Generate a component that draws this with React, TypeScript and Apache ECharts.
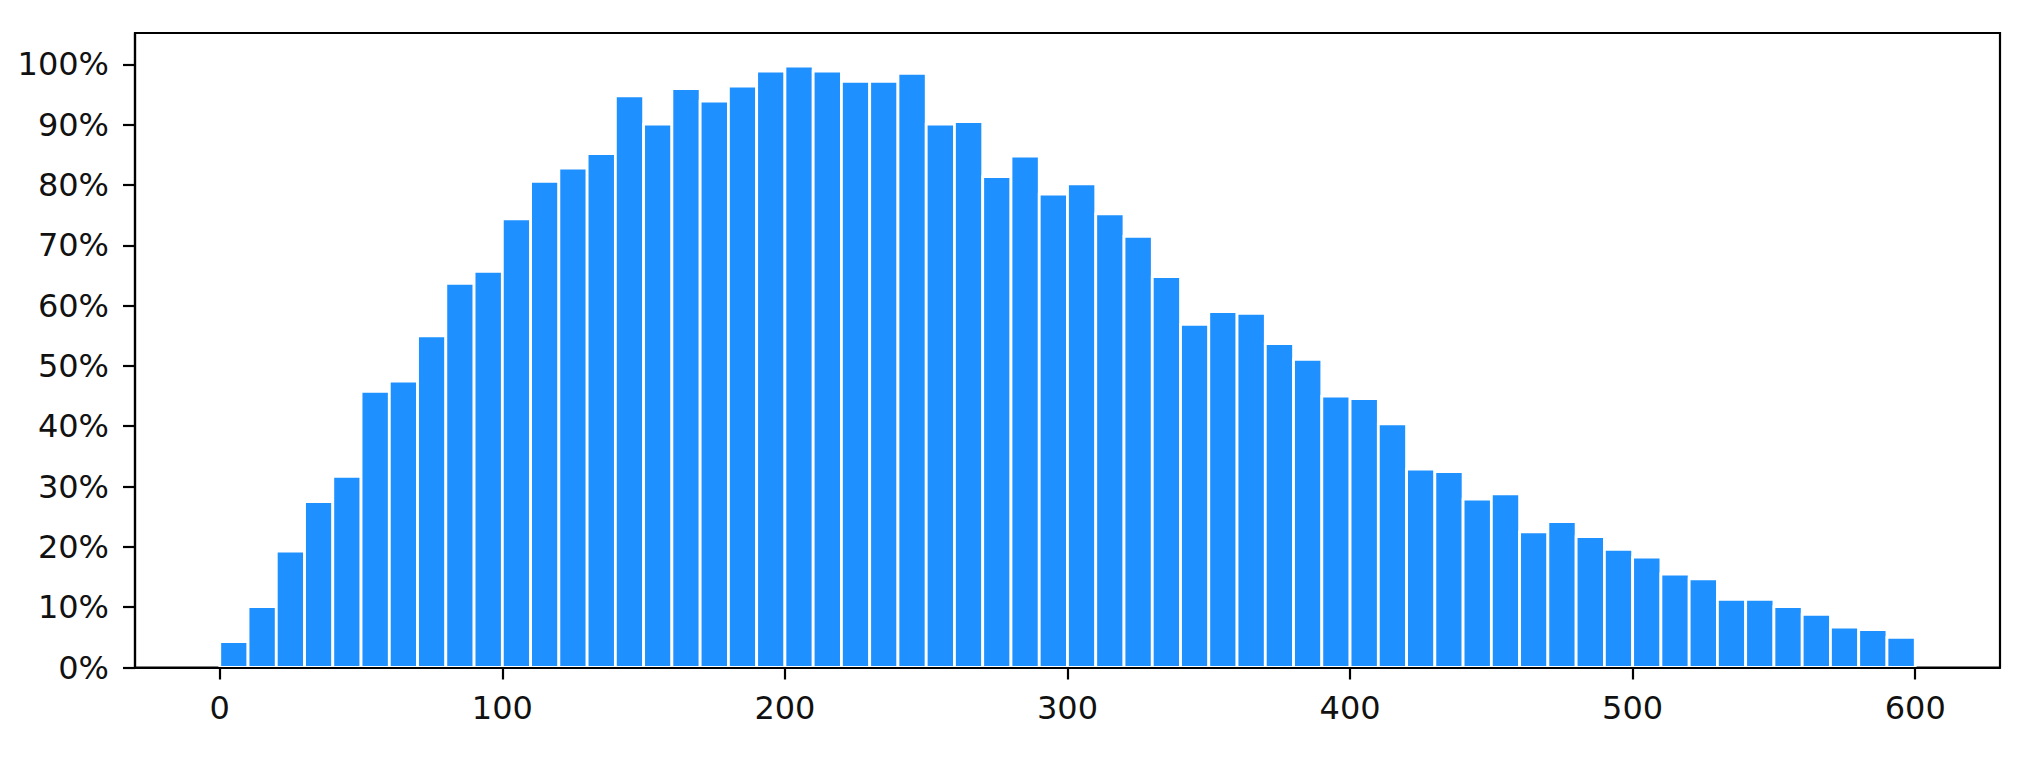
import React, { useEffect, useRef } from "react";
import * as echarts from "echarts";

// Histogram bin edges (left and right edge of every bin)
const binStarts = [0, 10, 20, 30, 40, 50, 60, 70, 80, 90, 100, 110, 120, 130, 140, 150, 160, 170, 180, 190, 200, 210, 220, 230, 240, 250, 260, 270, 280, 290, 300, 310, 320, 330, 340, 350, 360, 370, 380, 390, 400, 410, 420, 430, 440, 450, 460, 470, 480, 490, 500, 510, 520, 530, 540, 550, 560, 570, 580, 590];
const binEnds = [10, 20, 30, 40, 50, 60, 70, 80, 90, 100, 110, 120, 130, 140, 150, 160, 170, 180, 190, 200, 210, 220, 230, 240, 250, 260, 270, 280, 290, 300, 310, 320, 330, 340, 350, 360, 370, 380, 390, 400, 410, 420, 430, 440, 450, 460, 470, 480, 490, 500, 510, 520, 530, 540, 550, 560, 570, 580, 590, 600];
// Percent values
const percents = [
  4.3, 10.1, 19.3, 27.5, 31.7, 45.8, 47.5, 55.0, 63.7, 65.7,
  74.4, 80.6, 82.8, 85.2, 94.8, 90.1, 96.0, 93.9, 96.4, 98.9,
  99.7, 98.9, 97.2, 97.2, 98.5, 90.1, 90.5, 81.4, 84.8, 78.5,
  80.2, 75.2, 71.5, 64.8, 56.9, 59.0, 58.7, 53.7, 51.1, 45.0,
  44.6, 40.4, 32.9, 32.5, 27.9, 28.8, 22.5, 24.2, 21.7, 19.6,
  18.3, 15.5, 14.7, 11.3, 11.3, 10.1, 8.8, 6.7, 6.3, 5.0,
];
const xTicks = [0, 100, 200, 300, 400, 500, 600];
const yTicks = [0, 10, 20, 30, 40, 50, 60, 70, 80, 90, 100];

const FONT = "DejaVu Sans";
const FS = 32;

export default function App() {
  const ref = useRef<HTMLDivElement>(null);
  useEffect(() => {
    if (!ref.current) return;
    const chart = echarts.init(ref.current, undefined, { renderer: "svg" });
    const data = percents.map((v, i) => [binStarts[i], binEnds[i], v]);
    chart.setOption({
      animation: false,
      backgroundColor: "#fff",
      grid: {
        left: 135,
        top: 33,
        width: 1865,
        height: 634.5,
        show: true,
        borderColor: "#000",
        borderWidth: 2.2,
        backgroundColor: "transparent",
      },
      xAxis: {
        type: "value",
        min: -30,
        max: 630,
        z: 10,
        splitLine: { show: false },
        axisLine: { show: true, onZero: false, lineStyle: { color: "#000", width: 2.2 } },
        axisTick: {
          show: true,
          length: 12,
          customValues: xTicks,
          lineStyle: { color: "#000", width: 2.2 },
        },
        axisLabel: {
          customValues: xTicks,
          margin: 24,
          color: "#111",
          fontFamily: FONT,
          fontSize: FS,
        },
      },
      yAxis: {
        type: "value",
        min: 0,
        max: 105.2,
        z: 10,
        splitLine: { show: false },
        axisLine: { show: true, onZero: false, lineStyle: { color: "#000", width: 2.2 } },
        axisTick: {
          show: true,
          length: 12,
          customValues: yTicks,
          lineStyle: { color: "#000", width: 2.2 },
        },
        axisLabel: {
          customValues: yTicks,
          margin: 26,
          color: "#111",
          fontFamily: FONT,
          fontSize: FS,
          formatter: (v: number) => `${Math.round(v)}%`,
        },
      },
      series: [
        {
          type: "custom",
          z: 2,
          encode: { x: [0, 1], y: 2 },
          data,
          renderItem: (params: any, api: any) => {
            const x0 = api.value(0);
            const x1 = api.value(1);
            const v = api.value(2);
            const p0 = api.coord([x0, v]);
            const p1 = api.coord([x1, 0]);
            return {
              type: "rect",
              shape: { x: p0[0], y: p0[1], width: p1[0] - p0[0], height: p1[1] - p0[1] },
              style: { fill: "#1E90FF", stroke: "#ffffff", lineWidth: 2.8 },
            };
          },
        },
      ],
    });
    return () => chart.dispose();
  }, []);
  return (
    <div
      ref={ref}
      style={{ position: "fixed", left: 0, top: 0, width: 2044, height: 757, background: "#fff" }}
    />
  );
}
